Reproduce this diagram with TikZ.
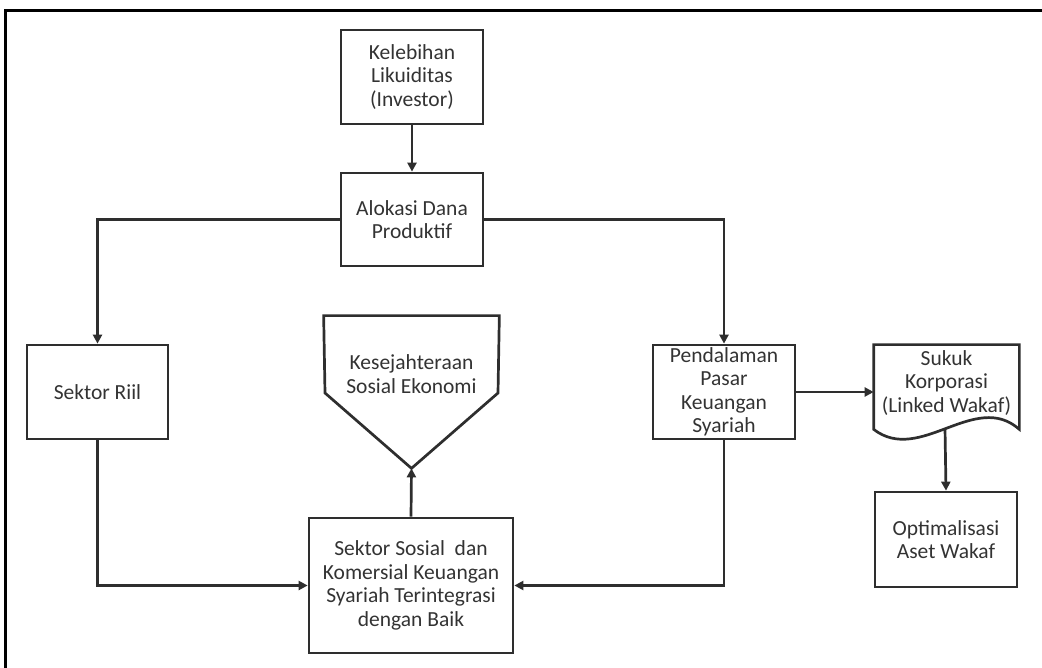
\documentclass[tikz,border=0pt]{standalone}
\usepackage{fontspec}
\setmainfont{Carlito}
\usetikzlibrary{arrows.meta}
\definecolor{ln}{HTML}{2E2E2E}
\definecolor{tx}{HTML}{333333}
\begin{document}
\begin{tikzpicture}[x=1pt,y=-1pt,
  line width=2.7pt,
  box/.style={draw=ln, line width=2.7pt, rectangle, align=center, inner sep=0pt,
    font=\fontsize{21.5}{23.5}\selectfont, text=tx},
  txt/.style={align=center, inner sep=0pt, font=\fontsize{21.5}{23.5}\selectfont, text=tx},
  conn/.style={draw=ln, line width=2.7pt, -{Triangle[length=9pt,width=9pt]}},
  plain/.style={draw=ln, line width=2.7pt}]
\useasboundingbox (0,0) rectangle (1042,668);
% outer frame
\draw[black, line width=3pt] (5,668) -- (5,11) -- (1042,11);

% nodes
\node[box, minimum width=142pt, minimum height=94pt] (kel) at (412,77) {Kelebihan\\Likuiditas\\(Investor)};
\node[box, minimum width=142pt, minimum height=93pt] (alo) at (412,219.5) {Alokasi Dana\\Produktif};
\node[box, minimum width=141pt, minimum height=94pt] (riil) at (97.5,392) {Sektor Riil};
\node[box, minimum width=142pt, minimum height=94pt] (pend) at (724,392) {Pendalaman\\Pasar\\Keuangan\\Syariah};
\node[box, minimum width=204pt, minimum height=135pt] (sos) at (411,585.5) {Sektor Sosial\ \ dan\\Komersial Keuangan\\Syariah Terintegrasi\\dengan Baik};
\node[box, minimum width=142pt, minimum height=95pt] (opt) at (946,539.5) {Optimalisasi\\Aset Wakaf};

% pentagon (Kesejahteraan)
\node[minimum width=173pt, minimum height=150pt, inner sep=0pt] (kes) at (411.5,392) {};
\coordinate (kestip) at (kes.south);
\coordinate (kesl) at (325,393);
\coordinate (kesr) at (498,393);
\draw[plain, line join=miter] (kes.north west) -- (kes.north east) -- (kesr) -- (kestip) -- (kesl) -- cycle;
\node[txt] (kestext) at (411.5,374) {Kesejahteraan\\Sosial Ekonomi};

% document shape (Sukuk)
\node[minimum width=143pt, minimum height=82pt, inner sep=0pt] (suk) at (946.5,387) {};
\draw[plain, line join=miter] (suk.south west) -- (suk.north west) -- (suk.north east) -- (suk.south east)
  .. controls (975,390) and (920,465) .. (suk.south west) -- cycle;
\node[txt] (suktext) at (946.5,383) {Sukuk\\Korporasi\\(Linked Wakaf)};
\coordinate (sukb) at (945,428);

% connectors
\draw[conn] (kel.south) -- (alo.north);
\draw[conn] (alo.west) -| (riil.north);
\draw[conn] (alo.east) -| (pend.north);
\draw[conn] (riil.south) |- (sos.west);
\draw[conn] (pend.south) |- (sos.east);
\draw[conn] (sos.north) -- (kestip);
\draw[conn] (pend.east) -- (pend.east -| suk.west);
\draw[conn] (sukb) -- (opt.north);
\end{tikzpicture}
\end{document}
